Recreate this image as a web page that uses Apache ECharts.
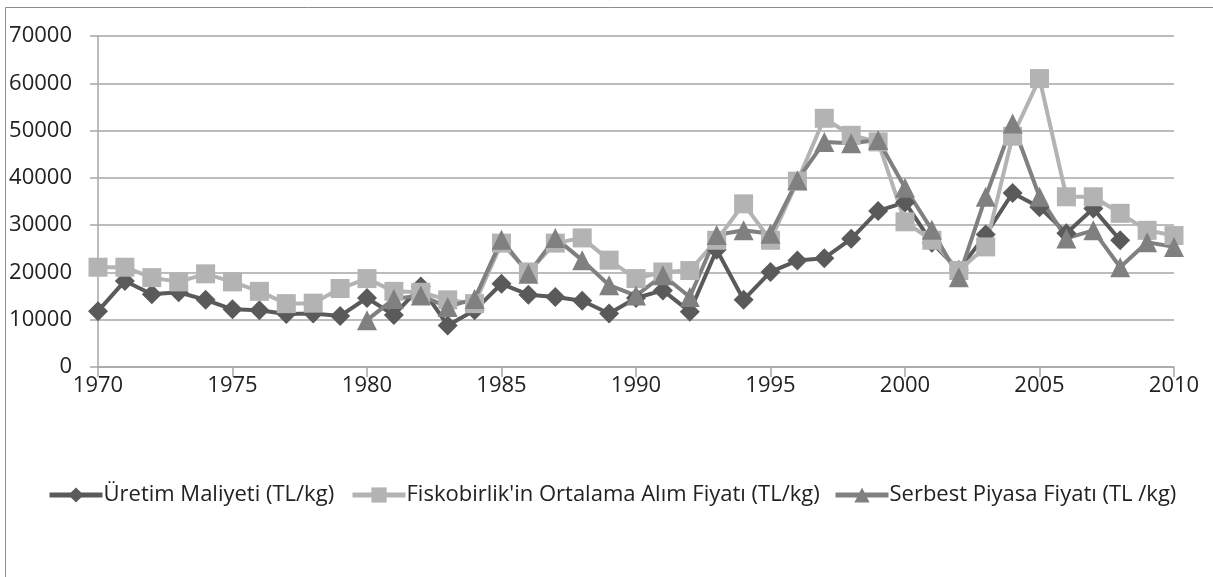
<!DOCTYPE html>
<html>
<head>
<meta charset="utf-8">
<title>Fındık fiyatları</title>
<script src="https://cdn.jsdelivr.net/npm/echarts@6/dist/echarts.min.js"></script>
<style>
  html, body { margin: 0; padding: 0; background: #fff; }
  #chart { width: 1213px; height: 577px; }
</style>
</head>
<body>
<div id="chart"></div>
<script>
// yıllar
var years = [];
for (var y = 1970; y <= 2010; y++) years.push(String(y));

// Üretim Maliyeti (TL/kg)
var uretim = [11800, 18200, 15400, 15800, 14200, 12200, 12000, 11200, 11300, 10800,
  14600, 11000, 17000, 8800, 12000, 17600, 15300, 14800, 14000, 11300,
  14600, 16200, 11700, 24800, 14200, 20100, 22500, 23000, 27100, 33000,
  34800, 26300, 20500, 28000, 36800, 33800, 28300, 33500, 26800, null, null];

// Fiskobirlik'in Ortalama Alım Fiyatı (TL/kg)
var fisko = [21100, 21100, 18900, 18000, 19700, 18000, 16000, 13400, 13500, 16600,
  18700, 16000, 15800, 14200, 13400, 26200, 20100, 26200, 27300, 22600,
  18700, 20100, 20400, 26800, 34500, 26800, 39300, 52600, 49000, 47600,
  30700, 26800, 20400, 25400, 48800, 61000, 36000, 36000, 32500, 28900, 27800];

// Serbest Piyasa Fiyatı (TL /kg)
var serbest = [null, null, null, null, null, null, null, null, null, null,
  9900, 14400, 15100, 12700, 14400, 26900, 19700, 27300, 22600, 17300,
  15100, 19400, 14800, 27900, 28900, 28200, 39500, 47600, 47300, 48000,
  37900, 29000, 19000, 36000, 51500, 36000, 27200, 28900, 21100, 26400, 25400];

var seriesNames = ['Üretim Maliyeti (TL/kg)', "Fiskobirlik'in Ortalama Alım Fiyatı (TL/kg)", 'Serbest Piyasa Fiyatı (TL /kg)'];

var yTicks = { min: 0, max: 70000, interval: 10000 };

var fontName = "'Open Sans', sans-serif";
var gridColor = '#a6a6a6';
var colors = ['#5a5a5a', '#b3b3b3', '#808080'];

var chart = echarts.init(document.getElementById('chart'));

// her gösterge öğesi ayrı yerleştiriliyor
var legendLeft = [42, 345, 828];
var legends = seriesNames.map(function (name, i) {
  return {
    left: legendLeft[i],
    top: 479,
    itemWidth: 53,
    itemHeight: 19,
    itemGap: 0,
    lineStyle: { width: 5 },
    textStyle: { fontFamily: fontName, fontSize: 22, color: '#222', padding: [0, 0, 0, -4] },
    data: [name]
  };
});

var option = {
  animation: false,
  backgroundColor: '#fff',
  textStyle: { fontFamily: fontName, color: '#222' },
  // Excel tarzı dış çerçeve
  graphic: [{
    type: 'rect',
    shape: { x: 5.5, y: 7.5, width: 1300, height: 700 },
    style: { fill: 'none', stroke: '#8c8c8c', lineWidth: 1 },
    silent: true
  }],
  grid: { left: 98, right: 39, top: 36, bottom: 210, containLabel: false },
  legend: legends,
  xAxis: {
    type: 'category',
    data: years,
    boundaryGap: false,
    axisLine: { lineStyle: { color: gridColor, width: 1.5 } },
    axisTick: { interval: 4, length: 10, lineStyle: { color: gridColor, width: 1.5 } },
    axisLabel: { interval: 4, margin: 8, fontSize: 22, color: '#222', fontFamily: fontName },
    splitLine: { show: false }
  },
  yAxis: {
    type: 'value',
    min: yTicks.min,
    max: yTicks.max,
    interval: yTicks.interval,
    axisLine: { show: true, lineStyle: { color: gridColor, width: 1.5 } },
    axisTick: { show: true, length: 8, lineStyle: { color: gridColor, width: 1.5 } },
    axisLabel: {
      margin: 26, fontSize: 22, color: '#222', fontFamily: fontName,
      formatter: function (v) { return String(v); }
    },
    splitLine: { lineStyle: { color: gridColor, width: 1.5 } }
  },
  series: [{
    name: seriesNames[0],
    type: 'line',
    data: uretim,
    symbol: 'diamond',
    symbolSize: 20,
    showAllSymbol: true,
    itemStyle: { color: colors[0] },
    lineStyle: { color: colors[0], width: 4 }
  }, {
    name: seriesNames[1],
    type: 'line',
    data: fisko,
    symbol: 'rect',
    symbolSize: 19,
    showAllSymbol: true,
    itemStyle: { color: colors[1] },
    lineStyle: { color: colors[1], width: 4 }
  }, {
    name: seriesNames[2],
    type: 'line',
    data: serbest,
    symbol: 'triangle',
    symbolSize: 20,
    showAllSymbol: true,
    itemStyle: { color: colors[2] },
    lineStyle: { color: colors[2], width: 4 }
  }]
};

chart.setOption(option);
</script>
</body>
</html>
